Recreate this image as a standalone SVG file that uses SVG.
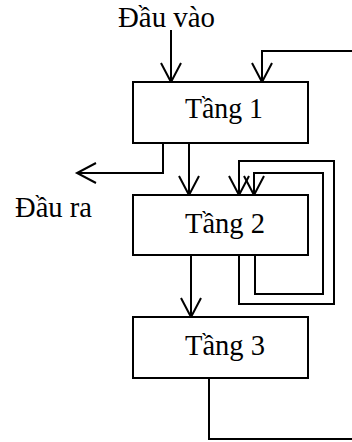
<svg xmlns="http://www.w3.org/2000/svg" width="352" height="442" viewBox="0 0 352 442">
<style>
.box{fill:#fff;stroke:#000;stroke-width:2}
.lbl{font-family:"Liberation Serif","Times New Roman",serif;font-size:29.5px;fill:#000;text-anchor:middle}
.ln{fill:none;stroke:#000;stroke-width:2}
</style>
<defs>
<marker id="ah" markerUnits="userSpaceOnUse" markerWidth="30" markerHeight="30" refX="0" refY="0" orient="auto" overflow="visible">
<path d="M-19,-10 L0,0 L-19,10" fill="none" stroke="#000" stroke-width="2"/>
</marker>
</defs>
<rect width="352" height="442" fill="#fff"/>
<text class="lbl" x="166.5" y="27" textLength="97" lengthAdjust="spacingAndGlyphs">Đầu vào</text>
<text class="lbl" x="53.5" y="217" textLength="77" lengthAdjust="spacingAndGlyphs">Đầu ra</text>
<g id="connectors">
<path class="ln" d="M171,30 V82" marker-end="url(#ah)"/>
<path class="ln" d="M352,51 H262 V82" marker-end="url(#ah)"/>
<path class="ln" d="M163,143 V173 H77" marker-end="url(#ah)"/>
<path class="ln" d="M189,143 V195" marker-end="url(#ah)"/>
<path class="ln" d="M239,255 V304 H334 V161 H239 V195" marker-end="url(#ah)"/>
<path class="ln" d="M255,255 V294 H323 V173 H254 V195" marker-end="url(#ah)"/>
<path class="ln" d="M191,255 V317" marker-end="url(#ah)"/>
<path class="ln" d="M209,378 V439 H352"/>
</g>
<g id="tang1">
<rect class="box" x="133" y="82" width="175" height="61"/>
<text class="lbl" x="224" y="118" textLength="78" lengthAdjust="spacingAndGlyphs">Tầng 1</text>
</g>
<g id="tang2">
<rect class="box" x="133" y="195" width="175" height="60"/>
<text class="lbl" x="225" y="233" textLength="80" lengthAdjust="spacingAndGlyphs">Tầng 2</text>
</g>
<g id="tang3">
<rect class="box" x="133" y="317" width="175" height="61"/>
<text class="lbl" x="225" y="355" textLength="80" lengthAdjust="spacingAndGlyphs">Tầng 3</text>
</g>
</svg>
